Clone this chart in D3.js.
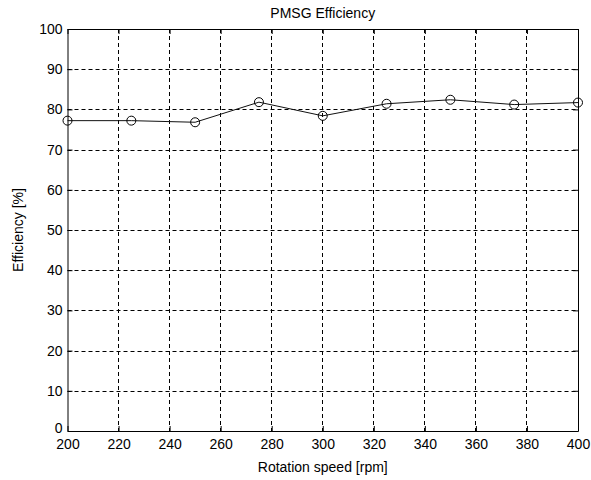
<!DOCTYPE html>
<html>
<head>
<meta charset="utf-8">
<script src="https://cdn.jsdelivr.net/npm/d3@7"></script>
<style>
  html, body { margin: 0; padding: 0; background: #fff; }
  svg { display: block; }
  text { font-family: "Liberation Sans", Arial, sans-serif; fill: #000; }
</style>
</head>
<body>
<script>
// Measured efficiency of the PMSG at each rotation speed
const speeds = [200, 225, 250, 275, 300, 325, 350, 375, 400];
const efficiency = [77.2, 77.2, 76.8, 81.8, 78.4, 81.4, 82.4, 81.2, 81.7];
const xTicks = [200, 220, 240, 260, 280, 300, 320, 340, 360, 380, 400];
const yTicks = [0, 10, 20, 30, 40, 50, 60, 70, 80, 90, 100];

const W = 591, H = 480;
const m = { left: 67.5, right: 13, top: 29, bottom: 49 };
const iw = W - m.left - m.right, ih = H - m.top - m.bottom;

const svg = d3.select("body").append("svg").attr("width", W).attr("height", H);
const g = svg.append("g").attr("transform", `translate(${m.left},${m.top})`);

const x = d3.scaleLinear().domain([200, 400]).range([0, iw]);
const y = d3.scaleLinear().domain([0, 100]).range([ih, 0]);

// dashed grid
g.append("g").selectAll("line").data(xTicks.slice(1, -1)).join("line")
  .attr("x1", d => Math.round(x(d))).attr("x2", d => Math.round(x(d)))
  .attr("y1", 0).attr("y2", ih)
  .attr("stroke", "#000").attr("stroke-dasharray", "4,3").attr("stroke-width", 1);
g.append("g").selectAll("line").data(yTicks.slice(1, -1)).join("line")
  .attr("y1", d => Math.round(y(d)) + 0.5).attr("y2", d => Math.round(y(d)) + 0.5)
  .attr("x1", 0).attr("x2", iw)
  .attr("stroke", "#000").attr("stroke-dasharray", "4,3").attr("stroke-width", 1);

// axes with inward ticks on all four sides
const fontSize = 14;
const axB = g.append("g").attr("transform", `translate(0,${ih})`)
  .call(d3.axisBottom(x).tickValues(xTicks).tickSizeInner(-5).tickSizeOuter(0).tickPadding(8));
const axT = g.append("g")
  .call(d3.axisTop(x).tickValues(xTicks).tickSizeInner(-5).tickSizeOuter(0).tickFormat(""));
const axL = g.append("g")
  .call(d3.axisLeft(y).tickValues(yTicks).tickSizeInner(-5).tickSizeOuter(0).tickPadding(5));
const axR = g.append("g").attr("transform", `translate(${iw},0)`)
  .call(d3.axisRight(y).tickValues(yTicks).tickSizeInner(-5).tickSizeOuter(0).tickFormat(""));
[axB, axT, axL, axR].forEach(a => {
  a.select(".domain").attr("stroke", "#000");
  a.selectAll(".tick line").attr("stroke", "#000");
  a.selectAll("text").attr("font-size", fontSize)
    .attr("font-family", "'Liberation Sans', Arial, sans-serif").attr("fill", "#000");
});
// lift the "0" label so it clears the first x label
axL.selectAll(".tick text").filter(d => d === 0).attr("dy", "0.12em");

// data line and circle markers
const line = d3.line().x((d, i) => x(speeds[i])).y(d => y(d));
g.append("path").datum(efficiency).attr("d", line)
  .attr("fill", "none").attr("stroke", "#111").attr("stroke-width", 1);
g.append("g").selectAll("circle").data(efficiency).join("circle")
  .attr("cx", (d, i) => x(speeds[i])).attr("cy", d => y(d)).attr("r", 4.5)
  .attr("fill", "none").attr("stroke", "#000").attr("stroke-width", 1);

// titles
svg.append("text").attr("x", m.left + iw / 2).attr("y", 17.5)
  .attr("text-anchor", "middle").attr("font-size", 14).text("PMSG Efficiency");
svg.append("text").attr("x", m.left + iw / 2).attr("y", 472)
  .attr("text-anchor", "middle").attr("font-size", 14).text("Rotation speed [rpm]");
svg.append("text").attr("transform", `translate(23,${m.top + ih / 2}) rotate(-90)`)
  .attr("text-anchor", "middle").attr("font-size", 14).text("Efficiency [%]");
</script>
</body>
</html>
